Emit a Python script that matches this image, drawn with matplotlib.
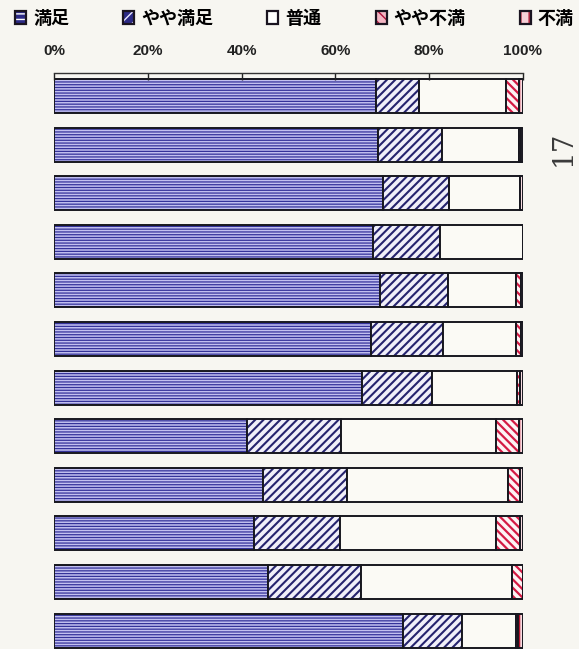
import matplotlib
matplotlib.use('Agg')
import matplotlib.pyplot as plt
from matplotlib.patches import Patch
import numpy as np

plt.rcParams['font.family'] = ['Noto Sans CJK JP', 'DejaVu Sans']

# 満足度の回答割合 (%), 上から順に12項目
labels = ['満足', 'やや満足', '普通', 'やや不満', '不満']
manzoku = [68.7, 69.0, 70.2, 68.1, 69.5, 67.6, 65.6, 41.2, 44.5, 42.6, 45.7, 74.5]
yaya_manzoku = [9.1, 13.8, 14.0, 14.2, 14.6, 15.4, 15.1, 20.1, 18.0, 18.4, 19.7, 12.4]
futsuu = [18.5, 16.4, 15.2, 17.7, 14.5, 15.5, 18.1, 32.9, 34.2, 33.2, 32.3, 11.7]
yaya_fuman = [2.9, 0.3, 0.0, 0.0, 1.0, 1.0, 0.6, 5.0, 2.7, 5.2, 2.3, 0.4]
fuman = [0.8, 0.5, 0.6, 0.0, 0.4, 0.5, 0.6, 0.8, 0.6, 0.6, 0.0, 1.0]
xticks = [0, 20, 40, 60, 80, 100]

series = [manzoku, yaya_manzoku, futsuu, yaya_fuman, fuman]
# 塗り色, ハッチ色, ハッチ, ハッチ線幅
styles = [
    ('#c2c0f0', '#34329a', '------', 0.9),
    ('#f0eff9', '#25236e', '////', 1.5),
    ('#fbfaf5', '#fbfaf5', '', 1.0),
    ('#fdf3f4', '#d41a44', '\\\\\\\\', 1.6),
    ('#f8dde2', '#b81430', '|||', 1.2),
]
edge = '#17171f'

fig = plt.figure(figsize=(5.79, 6.49), dpi=100, facecolor='#f7f6f1')
ax = fig.add_axes([54 / 579, 0, 469 / 579, 1 - 73 / 649])
ax.set_facecolor('none')

y = np.arange(len(manzoku))
left = np.zeros(len(manzoku))
for vals, (fc, hc, hatch, hlw) in zip(series, styles):
    vals = np.array(vals)
    with plt.rc_context({'hatch.linewidth': hlw}):
        ax.barh(y, vals, left=left, height=0.7, color=fc, edgecolor=hc,
                hatch=hatch, linewidth=0)
    ax.barh(y, vals, left=left, height=0.7, fill=False, edgecolor=edge,
            linewidth=1.4)
    left += vals

ax.set_xlim(0, 100)
ax.set_ylim(11.38, -0.473)
ax.set_yticks([])
ax.xaxis.tick_top()
ax.set_xticks(xticks)
ax.set_xticklabels([f'{v}%' for v in xticks])
ax.tick_params(axis='x', direction='in', length=5, width=1, pad=10.5,
               labelsize=11, colors='#222222')
for lbl in ax.get_xticklabels():
    lbl.set_fontfamily(['Liberation Sans', 'DejaVu Sans'])
    lbl.set_fontweight('bold')
for s in ['left', 'right', 'bottom']:
    ax.spines[s].set_visible(False)
ax.spines['top'].set_linewidth(1.0)
ax.spines['top'].set_color('#333333')

# 凡例 (小さな四角の見本)
legend_styles = [
    ('#2c2a86', '#ffffff', '---'),
    ('#2c2a86', '#e8e6ff', '///'),
    ('#ffffff', '#ffffff', ''),
    ('#f3b6c4', '#b0103a', '\\\\\\'),
    ('#f7d0d8', '#b0102c', '||'),
]
handles = []
for fc, hc, hatch in legend_styles:
    with plt.rc_context({'hatch.linewidth': 1.3}):
        inner = Patch(facecolor=fc, edgecolor=hc, hatch=hatch, linewidth=0)
    outer = Patch(fill=False, edgecolor='#1a1420', linewidth=1.6)
    handles.append((inner, outer))
fig.legend(handles, labels, loc='center left',
           bbox_to_anchor=(15 / 579, 1 - 18 / 649), ncol=5, frameon=False,
           prop={'size': 13, 'weight': 'bold'}, handlelength=0.6,
           handleheight=0.7, handletextpad=0.4, columnspacing=3.0,
           borderpad=0, borderaxespad=0)

# ページ番号
fig.text(563 / 579, 1 - 148 / 649, '17', rotation=90, fontsize=20,
         family='DejaVu Serif', color='#3a3a3a', ha='center', va='center')

fig.savefig('out.png', dpi=100, facecolor=fig.get_facecolor())
